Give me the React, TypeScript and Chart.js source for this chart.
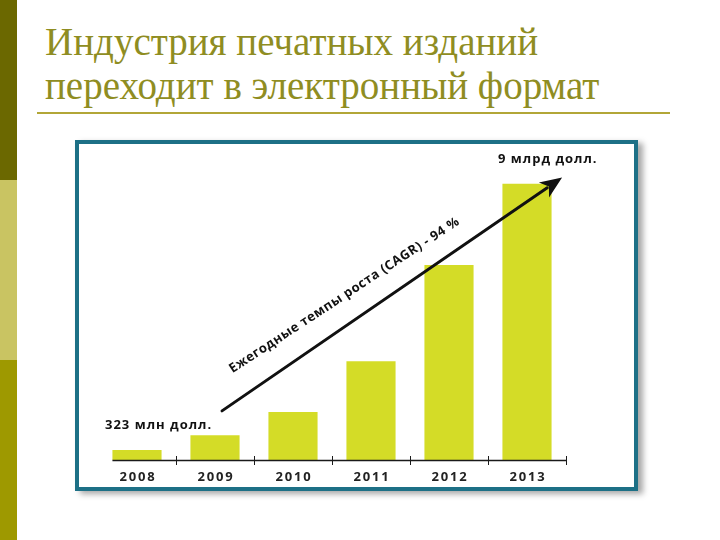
import React, { useEffect, useRef } from "react";
import { Chart, registerables } from "chart.js";

Chart.register(...registerables);

const categories: string[] = ["2008", "2009", "2010", "2011", "2012", "2013"];
const values: number[] = [0.323, 0.81, 1.56, 3.22, 6.35, 9.0];
const startLabel = "323 млн долл.";
const endLabel = "9 млрд долл.";
const arrowLabel = "Ежегодные темпы роста (CAGR) - 94 %";
const arrowFrom = { index: 1.09, value: 1.6 };
const arrowTo = { index: 5.45, value: 9.2 };
const titleLines: string[] = ["Индустрия печатных изданий", "переходит в электронный формат"];

const BAR_COLOR = "#d4dc27";
const TEXT_FONT = '"Open Sans", "DejaVu Sans", sans-serif';

const overlayPlugin = {
  id: "overlay",
  afterDatasetsDraw(chart: any) {
    const ctx = chart.ctx as CanvasRenderingContext2D;
    const xs = chart.scales.x;
    const ys = chart.scales.y;
    const y0 = ys.getPixelForValue(0);
    const step = xs.getPixelForValue(1) - xs.getPixelForValue(0);
    const meta = chart.getDatasetMeta(0);
    const firstBar = meta.data[0];
    const barW = firstBar.width;
    ctx.save();
    // axis line
    ctx.strokeStyle = "#1a1a1a";
    ctx.lineWidth = 1.5;
    ctx.beginPath();
    ctx.moveTo(xs.getPixelForValue(0) - barW / 2, y0 + 0.5);
    ctx.lineTo(xs.getPixelForValue(categories.length - 1) + step / 2, y0 + 0.5);
    ctx.stroke();
    // ticks
    ctx.lineWidth = 1;
    for (let i = 0; i < categories.length; i++) {
      const tx = Math.round(xs.getPixelForValue(i + 0.5)) + 0.5;
      ctx.beginPath();
      ctx.moveTo(tx, y0 - 4);
      ctx.lineTo(tx, y0 + 5);
      ctx.stroke();
    }
    // year labels
    ctx.fillStyle = "#222";
    ctx.font = `bold 13px ${TEXT_FONT}`;
    (ctx as any).letterSpacing = "1.8px";
    ctx.textAlign = "center";
    ctx.textBaseline = "middle";
    categories.forEach((c, i) => {
      ctx.fillText(c, xs.getPixelForValue(i) + 1, y0 + 17);
    });
    // value annotations
    ctx.textAlign = "left";
    ctx.textBaseline = "alphabetic";
    ctx.fillStyle = "#111";
    (ctx as any).letterSpacing = "1px";
    ctx.font = `bold 13px ${TEXT_FONT}`;
    const first = 0;
    const last = values.length - 1;
    ctx.fillText(startLabel, xs.getPixelForValue(first) - 32, ys.getPixelForValue(values[first]) - 21);
    ctx.fillText(endLabel, xs.getPixelForValue(last) - 29, ys.getPixelForValue(values[last]) - 21);
    // arrow
    const sx = xs.getPixelForValue(arrowFrom.index);
    const sy = ys.getPixelForValue(arrowFrom.value);
    const ex = xs.getPixelForValue(arrowTo.index);
    const ey = ys.getPixelForValue(arrowTo.value);
    const ang = Math.atan2(ey - sy, ex - sx);
    const headLen = 22;
    const headW = 9;
    ctx.strokeStyle = "#111";
    ctx.fillStyle = "#111";
    ctx.lineWidth = 3;
    ctx.lineCap = "round";
    ctx.beginPath();
    ctx.moveTo(sx, sy);
    ctx.lineTo(ex - Math.cos(ang) * (headLen - 4), ey - Math.sin(ang) * (headLen - 4));
    ctx.stroke();
    ctx.beginPath();
    ctx.moveTo(ex, ey);
    const bx = ex - Math.cos(ang) * headLen;
    const by = ey - Math.sin(ang) * headLen;
    ctx.lineTo(bx + Math.sin(ang) * headW, by - Math.cos(ang) * headW);
    ctx.lineTo(ex - Math.cos(ang) * (headLen - 6), ey - Math.sin(ang) * (headLen - 6));
    ctx.lineTo(bx - Math.sin(ang) * headW, by + Math.cos(ang) * headW);
    ctx.closePath();
    ctx.fill();
    // rotated label along the arrow
    const ux = Math.cos(ang);
    const uy = Math.sin(ang);
    const nx = uy;
    const ny = -ux;
    const along = 30;
    const perp = 25;
    const tx = sx + ux * along + nx * perp;
    const ty = sy + uy * along + ny * perp;
    ctx.translate(tx, ty);
    ctx.rotate(ang + 0.02);
    ctx.font = `bold 13px ${TEXT_FONT}`;
    (ctx as any).letterSpacing = "0.5px";
    ctx.fillText(arrowLabel, 0, 0);
    ctx.restore();
  },
};

function BarChart() {
  const ref = useRef<HTMLCanvasElement | null>(null);
  useEffect(() => {
    if (!ref.current) return;
    const chart = new Chart(ref.current, {
      type: "bar",
      data: {
        labels: categories,
        datasets: [
          {
            data: values,
            backgroundColor: BAR_COLOR,
            borderWidth: 0,
            barPercentage: 0.63,
            categoryPercentage: 1,
          },
        ],
      },
      options: {
        responsive: false,
        animation: false,
        devicePixelRatio: 1,
        layout: { padding: { left: 98, right: 154, top: 153, bottom: 80 } },
        scales: {
          x: { display: false, offset: true },
          y: { display: false, min: 0, max: 10 },
        },
        plugins: { legend: { display: false }, tooltip: { enabled: false } },
      },
      plugins: [overlayPlugin],
    });
    return () => chart.destroy();
  }, []);
  return (
    <canvas
      ref={ref}
      width={720}
      height={540}
      style={{ position: "absolute", left: 0, top: 0, width: 720, height: 540 }}
    />
  );
}

export default function App() {
  return (
    <div
      style={{
        position: "fixed",
        left: 0,
        top: 0,
        width: 720,
        height: 540,
        background: "#ffffff",
        overflow: "hidden",
      }}
    >
      <div style={{ position: "absolute", left: 0, top: 0, width: 17, height: 180, background: "#6b6800" }} />
      <div style={{ position: "absolute", left: 0, top: 180, width: 17, height: 180, background: "#c9c462" }} />
      <div style={{ position: "absolute", left: 0, top: 360, width: 17, height: 180, background: "#9e9900" }} />
      {titleLines.map((t, i) => (
        <div
          key={i}
          style={{
            position: "absolute",
            left: 45,
            top: 22 + i * 44,
            fontFamily: '"Liberation Serif", "DejaVu Serif", serif',
            fontSize: 39,
            lineHeight: "40px",
            color: "#8f8d22",
            whiteSpace: "nowrap",
          }}
        >
          {t}
        </div>
      ))}
      <div style={{ position: "absolute", left: 37, top: 112, width: 633, height: 2, background: "#b2a637" }} />
      <div
        style={{
          position: "absolute",
          left: 75,
          top: 140,
          width: 555,
          height: 343,
          border: "4px solid #1d7086",
          boxShadow: "5px 3px 6px rgba(0,0,0,0.35)",
          background: "#ffffff",
        }}
      />
      <BarChart />
    </div>
  );
}
